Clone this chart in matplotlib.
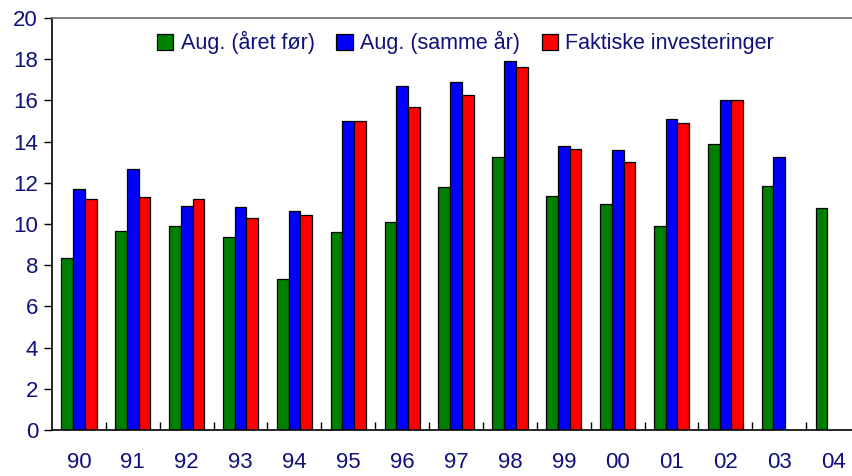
import numpy as np
import matplotlib.pyplot as plt
from matplotlib.ticker import FixedLocator

plt.rcParams['font.family'] = ['Liberation Sans', 'DejaVu Sans']

years = ['90', '91', '92', '93', '94', '95', '96', '97', '98', '99',
         '00', '01', '02', '03', '04']
aug_for = [8.33, 9.66, 9.92, 9.38, 7.33, 9.63, 10.08, 11.78, 13.25, 11.34,
           10.95, 9.92, 13.88, 11.83, 10.76]
aug_same = [11.68, 12.68, 10.89, 10.84, 10.65, 14.98, 16.70, 16.91, 17.91, 13.79,
            13.58, 15.11, 16.03, 13.24, np.nan]
faktiske = [11.23, 11.33, 11.23, 10.31, 10.45, 14.98, 15.68, 16.28, 17.64, 13.63,
            13.00, 14.90, 16.03, np.nan, np.nan]
labels = ['Aug. (året før)', 'Aug. (samme år)', 'Faktiske investeringer']

navy = '#10107a'
fig = plt.figure(figsize=(8.52, 4.76), dpi=100)
ax = fig.add_axes([52 / 852, 46 / 476, 1 - 52 / 852, 412 / 476])

x = np.arange(len(years))
w = 0.218
series = [aug_for, aug_same, faktiske]
colors = ['#008000', '#0000ff', '#ff0000']
for i, (vals, col, lab) in enumerate(zip(series, colors, labels)):
    ax.bar(x + (i - 1) * w, vals, w, color=col, edgecolor='black',
           linewidth=0.9, label=lab)

ax.set_xlim(-0.5, 14.35)
ax.set_ylim(0, 20)
ax.set_yticks(range(0, 21, 2))
ax.set_xticks(x)
ax.set_xticklabels(years)
ax.xaxis.set_minor_locator(FixedLocator(x[1:] - 0.5))
ax.tick_params(axis='x', which='major', length=0, pad=16, labelsize=16,
               labelcolor=navy)
ax.tick_params(axis='x', which='minor', direction='in', length=6, width=1)
ax.tick_params(axis='y', direction='out', length=6, width=1, pad=4,
               labelsize=16, labelcolor=navy)

ax.spines['right'].set_visible(False)
ax.spines['top'].set_color('#707070')
ax.spines['top'].set_linewidth(1.2)
ax.spines['left'].set_linewidth(1.2)
ax.spines['bottom'].set_linewidth(1.2)

leg = ax.legend(loc='upper center', bbox_to_anchor=(0.517, 1.015), ncol=3,
                frameon=False, fontsize=15.5, handlelength=0.75,
                handleheight=0.75, handletextpad=0.35, columnspacing=1.0,
                labelcolor=navy)

fig.savefig('out.png', dpi=100)
